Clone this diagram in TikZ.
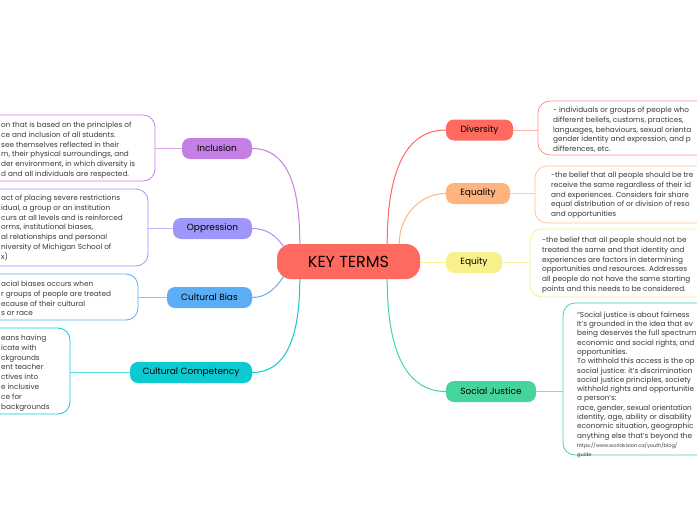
\documentclass[tikz,border=0pt]{standalone}
\usepackage{fontspec}
\setmainfont{Poppins}
\usetikzlibrary{calc}
\definecolor{KTRed}{HTML}{FF6A60}
\definecolor{KTPurple}{HTML}{C47FE4}
\definecolor{KTLavender}{HTML}{9F96FA}
\definecolor{KTBlue}{HTML}{5BAEF6}
\definecolor{KTCyan}{HTML}{0CCAD0}
\definecolor{KTOrange}{HTML}{FFB37E}
\definecolor{KTYellow}{HTML}{F8F08A}
\definecolor{KTGreen}{HTML}{45D59B}
\definecolor{KTText}{HTML}{3A3A3A}

\begin{document}
\begin{tikzpicture}[x=1pt,y=-1pt,
  topic/.style={rounded corners=8pt,minimum height=21pt,inner sep=0pt,font=\fontsize{9}{11}\selectfont,text=black},
  note/.style={draw,line width=0.8pt,rounded corners=12pt,fill=white,inner sep=0pt},
  notetext/.style={align=left,inner sep=0pt,anchor=north west,text=KTText,font=\fontsize{7.3}{9.9}\selectfont},
  link/.style={line width=1pt},
]
\useasboundingbox (0,0) rectangle (697,520);
\clip (0,0) rectangle (697,520);

% centre
\node[fill=KTRed,rounded corners=14pt,minimum width=143pt,minimum height=35pt,inner sep=0pt,font=\fontsize{16}{18}\selectfont] (kt) at (348.5,261.5) {KEY TERMS};

% left topics
\node[topic,fill=KTPurple,minimum width=70pt] (inc) at (217,148.5) {Inclusion};
\node[topic,fill=KTLavender,minimum width=79pt] (opp) at (212.5,228.5) {Oppression};
\node[topic,fill=KTBlue,minimum width=85pt] (bias) at (209.5,297.5) {Cultural Bias};
\node[topic,fill=KTCyan,minimum width=122pt] (comp) at (191,372.5) {Cultural Competency};

% right topics
\node[topic,fill=KTRed,minimum width=67pt] (div) at (479.5,130) {Diversity};
\node[topic,fill=KTOrange,minimum width=64pt] (eql) at (478,193.5) {Equality};
\node[topic,fill=KTYellow,minimum width=56pt] (eqt) at (474,262.5) {Equity};
\node[topic,fill=KTGreen,minimum width=90pt] (sj) at (491,391.5) {Social Justice};

% note boxes
\node[note,draw=KTPurple,minimum width=235pt,minimum height=66pt] (incbox) at (37.5,148) {};
\node[note,draw=KTLavender,minimum width=228pt,minimum height=77pt] (oppbox) at (34,227.5) {};
\node[note,draw=KTBlue,minimum width=218pt,minimum height=46pt] (biasbox) at (29,297) {};
\node[note,draw=KTCyan,minimum width=150pt,minimum height=86pt] (compbox) at (-5,371) {};
\node[note,draw=KTRed!75,minimum width=222pt,minimum height=54pt] (divbox) at (649,128) {};
\node[note,draw=KTOrange!80,minimum width=225pt,minimum height=57pt] (eqlbox) at (647.5,194.5) {};
\node[note,draw=KTYellow,minimum width=230pt,minimum height=68pt] (eqtbox) at (645,263) {};
\node[note,draw=KTGreen,minimum width=197pt,minimum height=152pt] (sjbox) at (661.5,379) {};

% note texts
\node[notetext] (inctext) at (1,121.5) {on that is based on the principles of\\ce and inclusion of all students.\\ see themselves reflected in their\\m, their physical surroundings, and\\der environment, in which diversity is\\d and all individuals are respected.};
\node[notetext] (opptext) at (1,194.5) {act of placing severe restrictions\\idual, a group or an institution\\curs at all levels and is reinforced\\orms, institutional biases,\\al relationships and personal\\niversity of Michigan School of\\x)};
\node[notetext] (biastext) at (1,280.5) {acial biases occurs when\\r groups of people are treated\\ecause of their cultural\\s or race};
\node[notetext] (comptext) at (1,334.5) {eans having\\icate with\\ckgrounds\\ent teacher\\ctives into\\e inclusive\\ce for\\backgrounds};
\node[notetext] (divtext) at (553,106.5) {- individuals or groups of people who\\different beliefs, customs, practices,\\languages, behaviours, sexual orienta\\gender identity and expression, and p\\differences, etc.};
\node[notetext] (eqltext) at (551,171.5) {-the belief that all people should be tre\\receive the same regardless of their id\\and experiences. Considers fair share\\equal distribution of or division of reso\\and opportunities};
\node[notetext] (eqttext) at (542,236.5) {-the belief that all people should not be\\treated the same and that identity and\\experiences are factors in determining\\opportunities and resources. Addresses\\all people do not have the same starting\\points and this needs to be considered.};
\node[notetext,font=\fontsize{7.3}{9.3}\selectfont] (sjtext) at (577,311.5) {“Social justice is about fairness\\It’s grounded in the idea that ev\\being deserves the full spectrum\\economic and social rights, and\\opportunities.\\To withhold this access is the op\\social justice: it’s discrimination\\social justice principles, society\\withhold rights and opportunitie\\a person’s:\\race, gender, sexual orientation\\identity, age, ability or disability\\economic situation, geographic\\anything else that’s beyond the\\{\fontsize{5}{9.3}\selectfont https://www.worldvision.ca/youth/blog/}\\{\fontsize{5}{9.3}\selectfont guide}};

% centre to topics
\draw[link,KTPurple] ($(kt.north west)+(23,0)$) to[out=90,in=0] (inc.east);
\draw[link,KTLavender] ($(kt.north west)+(7,3)$) to[out=125,in=0] (opp.east);
\draw[link,KTBlue] ($(kt.south west)+(7,-3)$) to[out=235,in=0] (bias.east);
\draw[link,KTCyan] ($(kt.south west)+(23,0)$) to[out=270,in=0] (comp.east);
\draw[link,KTRed] ($(kt.north east)+(-33,0)$) to[out=90,in=180] (div.west);
\draw[link,KTOrange] ($(kt.north east)+(-21,0)$) to[out=90,in=180] (eql.west);
\draw[link,KTYellow] (kt.east |- eqt.west) -- (eqt.west);
\draw[link,KTGreen] ($(kt.south east)+(-33,0)$) to[out=270,in=180] (sj.west);

% topics to notes
\draw[link,KTPurple!70] (inc.west) -- (inc.west -| incbox.east);
\draw[link,KTLavender!70] (opp.west) -- (opp.west -| oppbox.east);
\draw[link,KTBlue!70] (bias.west) -- (bias.west -| biasbox.east);
\draw[link,KTCyan!70] (comp.west) -- (comp.west -| compbox.east);
\draw[link,KTRed!50] (div.east) -- (div.east -| divbox.west);
\draw[link,KTOrange!70] (eql.east) -- (eql.east -| eqlbox.west);
\draw[link,KTYellow!80] (eqt.east) -- (eqt.east -| eqtbox.west);
\draw[link,KTGreen!70] (sj.east) -- (sj.east -| sjbox.west);
\end{tikzpicture}
\end{document}
